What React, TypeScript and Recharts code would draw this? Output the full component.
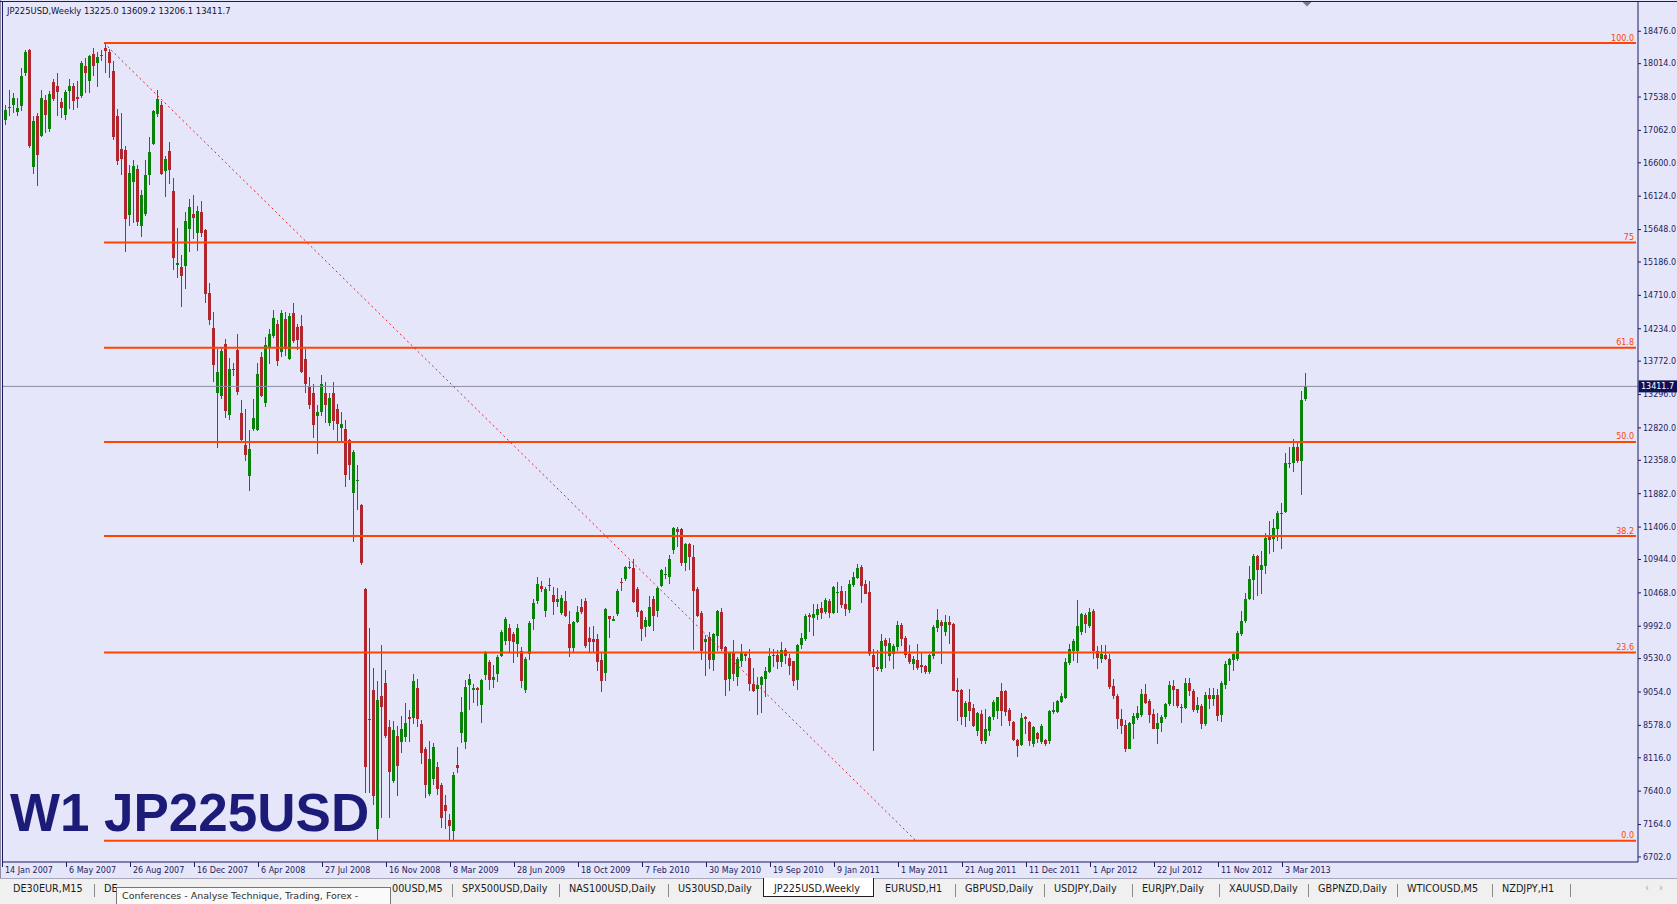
import React from 'react';
import { ComposedChart, Bar, XAxis, YAxis, ReferenceLine } from 'recharts';

// ---------- DATA (weekly OHLC, [open, high, low, close]) ----------
const y2007: number[][] = [
  [17216,17430,17145,17358],[17392,17643,17264,17400],[17430,17596,17311,17525],[17320,17525,17264,17382],[17406,17952,17335,17833],
  [17881,18213,17833,18175],[18204,18223,16812,16836],[16537,17264,16447,17202],[17273,17311,16276,16718],[16988,17634,16969,17525],
  [17491,17572,17026,17278],[17088,17620,17036,17586],[17748,17795,17477,17515],[17691,17881,17264,17605],[17463,17525,17240,17387],
  [17283,17643,17207,17615],[17629,17795,17368,17700],[17691,17738,17358,17477],[17534,17762,17377,17515],[17548,18047,17525,18023],
  [17976,18094,17596,17881],[17772,18142,17596,18118],[18151,18237,17833,17976],[18023,18175,17681,18109],[18118,18204,18047,18142],
  [18237,18308,17881,18189],[18175,18223,17810,18023],[17905,18047,16922,16969],[17273,17368,16575,16632],[16803,17311,16423,16661],
  [16789,16846,15326,15792],[15849,16575,15697,16457],[16323,16637,15744,16551],[16513,16575,15706,15763],[15697,16219,15545,16148],
  [15863,16637,15839,16423],[16423,16969,16281,16755],[16874,17358,16860,17335],[17297,17634,17254,17510],[17430,17477,16433,16447],
  [16490,16703,16115,16661],[16775,16898,16304,16494],[16195,16385,15065,15241],[15146,15673,14961,15174],[15113,15284,14548,14980],
  [15127,15896,14804,15768],[15659,16077,15331,15972],[15863,16138,15516,15811],[15592,15982,15341,15910],[15896,16053,15545,15602],
  [15649,15659,14605,14723],
];
const y2008: number[][] = [
  [14747,14890,14287,14358],[14239,14472,13480,13717],[13323,13949,12540,13617],[13275,13964,13237,13916],[14011,14082,12967,13061],
  [13004,13812,12933,13655],[13665,13750,13560,13646],[13930,14154,13290,13332],[13038,13218,12620,12648],[12573,13085,12349,12430],
  [12136,12786,11922,12525],[12800,13228,12777,12967],[12786,13750,12777,13584],[13836,13902,13256,13275],[13175,14120,13115,14005],
  [13977,14230,13725,14154],[14129,14508,14104,14381],[14306,14356,13700,13775],[13902,14508,13826,14457],[14366,14467,13851,13952],
  [13801,14457,13790,14417],[14457,14598,14028,14053],[14255,14305,13927,14078],[14280,14432,13599,13624],[13801,13952,13321,13447],
  [13397,13548,13094,13144],[13321,13447,12679,12866],[12993,13144,12452,13053],[13043,13573,12993,13447],[13321,13472,12892,13144],
  [12892,13321,12841,13245],[13321,13472,12791,12917],[13094,13154,12629,12881],[12816,13043,12614,12881],[12801,12927,11983,12149],
  [12649,12664,12084,12296],[11892,12498,11200,12472],[12058,12296,11654,12083],[11720,11740,10872,10897],[10528,10543,7614,7983],
  [8670,9973,7614,8650],[9089,9392,7448,7564],[7094,9205,6940,8937],[9003,9720,7261,8841],[9180,9367,8397,8422],
  [8559,8649,7261,7917],[7781,8639,7751,8508],[8432,8574,7564,8003],[8344,8710,8185,8533],[8407,8902,8347,8614],
  [8700,8801,8337,8665],[8685,9316,8599,9205],
];
const y2009: number[][] = [
  [9104,9240,8559,8675],[8599,8649,8033,8180],[8245,8271,7539,7730],[7599,8356,7574,8104],[7816,8321,7730,8266],
  [7983,8054,7589,7675],[7730,7751,7109,7251],[7438,7589,7099,7362],[7236,7311,6943,7150],[7074,7917,6932,7867],
  [8018,8271,7902,7968],[8473,8978,8321,8776],[8336,9230,8246,9119],[9155,9306,8791,9245],[9079,9165,8902,9104],
  [9104,9119,8852,9089],[8862,9245,8614,9230],[9291,9644,9230,9609],[9483,9508,9089,9230],[9230,9432,9104,9265],
  [9316,9584,9195,9558],[9569,9937,9554,9912],[9776,10129,9720,10099],[9973,10023,9609,9786],[9887,9912,9473,9761],
  [9735,10023,9558,9963],[9634,9695,9104,9215],[9077,9560,9040,9520],[9600,10070,9515,10045],[10095,10380,9943,10319],
  [10357,10699,10309,10594],[10570,10642,10475,10523],[10214,10547,10119,10523],[10580,10680,10490,10570],[10437,10547,10152,10342],
  [10342,10537,10262,10380],[10176,10442,10157,10395],[10357,10499,10129,10143],[10024,10214,9549,9682],[9682,10071,9620,10048],
  [10048,10285,10033,10190],[10262,10380,10166,10190],[10357,10395,9682,9715],[9826,9986,9620,9772],[9810,10000,9609,9763],
  [9810,9881,9359,9478],[9511,9606,9050,9207],[9321,10252,9217,10238],[10133,10143,9824,10095],[10071,10143,10062,10095],
  [10166,10523,10143,10499],[10618,10680,10499,10603],
];
const y2010: number[][] = [
  [10665,10855,10642,10841],[10831,10927,10808,10817],[10822,10950,10319,10333],[10523,10547,10119,10190],[10205,10224,9787,9953],
  [9977,10119,9844,10081],[10000,10428,9977,10262],[10380,10428,9929,10133],[10205,10547,10119,10537],[10570,10808,10547,10793],
  [10722,10831,10665,10737],[10689,11012,10594,10950],[11078,11411,11022,11392],[11378,11402,11126,11330],[11378,11392,10855,10889],
  [10889,11174,10774,11164],[11164,11174,10793,10974],[10974,11155,9654,10499],[10523,10547,10129,10143],[10176,10205,9511,9644],
  [9763,9867,9288,9810],[9834,9905,9383,9511],[9511,9891,9359,9881],[9858,10224,9644,10214],[10190,10252,9644,9668],
  [9691,9715,9003,9226],[9240,9620,9074,9606],[9611,9796,9217,9312],[9264,9549,9145,9525],[9502,9739,9407,9630],
  [9597,9606,9502,9573],[9535,9668,9074,9169],[9169,9397,9050,9074],[9098,9273,8732,9155],[9155,9283,8751,9273],
  [9240,9416,8989,9359],[9345,9682,9321,9573],[9582,9668,9407,9563],[9587,9654,9383,9478],[9478,9763,9407,9654],
  [9658,9682,9454,9573],[9540,9600,9300,9420],[9489,9499,9142,9214],[9223,9736,9085,9722],[9722,9902,9665,9831],
  [9807,10163,9783,10140],[10154,10187,9916,10126],[10107,10316,9855,10163],[10154,10316,10078,10235],[10249,10344,10092,10187],
  [10197,10401,10173,10363],[10354,10377,10107,10187],
];
const y2011: number[][] = [
  [10187,10567,10173,10553],[10472,10629,10187,10487],[10496,10567,10258,10292],[10316,10496,10140,10244],[10225,10648,10187,10600],
  [10577,10771,10558,10695],[10686,10885,10672,10828],[10843,10866,10330,10567],[10591,10648,10448,10458],[10482,10638,9570,9593],
  [9579,9665,8216,9413],[9413,9650,9356,9380],[9380,9878,9342,9783],[9793,9831,9394,9712],[9570,9821,9499,9759],
  [9593,9736,9380,9712],[9698,10069,9641,10007],[10007,10045,9712,9807],[9817,9855,9546,9579],[9603,9727,9451,9475],
  [9451,9570,9370,9522],[9508,9745,9366,9394],[9437,9617,9332,9413],[9422,9442,9309,9342],[9342,9603,9309,9579],
  [9570,10007,9522,9983],[9973,10235,9916,10078],[10054,10078,9451,9997],[9916,10154,9855,10054],[10059,10140,9736,10011],
  [10021,10031,9062,9071],[9081,9247,8644,9047],[9081,9095,8582,8701],[8701,8919,8558,8895],[8905,9095,8644,8777],
  [8833,8881,8548,8572],[8501,8762,8430,8748],[8738,8800,8311,8359],[8359,8810,8311,8525],[8501,8715,8430,8701],
  [8701,8938,8653,8914],[8786,8985,8667,8976],[9071,9176,8572,8786],[9071,9081,8715,8772],[8800,8819,8572,8643],
  [8629,8643,8359,8368],[8368,8382,8121,8287],[8297,8748,8287,8682],[8691,8715,8453,8667],[8629,8643,8287,8359],
  [8311,8572,8264,8548],[8463,8477,8321,8382],
];
const y2012: number[][] = [
  [8335,8596,8311,8572],[8368,8382,8287,8311],[8349,8795,8311,8786],[8775,8910,8737,8800],[8771,8941,8752,8927],
  [8913,9046,8894,8998],[8975,9545,8951,9483],[9464,9735,9436,9664],[9640,9815,9497,9782],[9640,10367,9474,9996],
  [9911,10176,9863,10162],[10153,10176,9891,10020],[9996,10257,9972,10200],[10210,10234,9531,9640],[9640,9711,9379,9545],
  [9531,9720,9464,9592],[9578,9720,9512,9531],[9521,9592,9094,9132],[9141,9246,8951,8998],[8998,9022,8524,8666],
  [8666,8818,8452,8571],[8580,8656,8201,8248],[8248,8628,8238,8609],[8595,8751,8390,8713],[8690,8856,8656,8751],
  [8723,9094,8704,9022],[9022,9165,8880,8904],[8927,8951,8619,8723],[8737,8808,8524,8533],[8533,8761,8310,8619],
  [8619,8723,8485,8704],[8704,8904,8666,8880],[8880,9212,8856,9150],[9141,9226,8856,9084],[9094,9103,8832,8856],
  [8847,8880,8619,8832],[8832,9260,8818,9188],[9179,9260,8998,9070],[9070,9094,8770,8799],[8799,8989,8761,8865],
  [8856,8880,8524,8595],[8595,9056,8571,9008],[9008,9118,8808,8960],[8960,9118,8856,9008],[9008,9094,8642,8713],
  [8723,9212,8628,9188],[9150,9497,9094,9450],[9436,9545,9212,9521],[9507,9616,9355,9592],[9521,9924,9497,9891],
  [9877,10210,9853,10067],[10067,10471,10044,10386],[10386,10851,10367,10661],
];
const y2013: number[][] = [
  [10651,11017,10367,10994],[10994,11003,10424,10794],[10794,11065,10447,10861],[10851,11326,10732,11255],[11269,11492,11017,11222],
  [11231,11516,11051,11397],[11374,11635,11207,11601],[11587,11754,11089,11611],[11621,12457,11601,12324],[12324,12552,12252,12300],
  [12314,12666,12191,12552],[12552,12618,12324,12347],[12347,13345,11858,13217],[13225.0,13609.2,13206.1,13411.7],
];

const dateLabels = [
  '14 Jan 2007','6 May 2007','26 Aug 2007','16 Dec 2007','6 Apr 2008','27 Jul 2008','16 Nov 2008',
  '8 Mar 2009','28 Jun 2009','18 Oct 2009','7 Feb 2010','30 May 2010','19 Sep 2010','9 Jan 2011',
  '1 May 2011','21 Aug 2011','11 Dec 2011','1 Apr 2012','22 Jul 2012','11 Nov 2012','3 Mar 2013',
];
const dateLabelStep = 16; // weeks between time-scale labels
const emptySlotsRight = 83; // chart shift (empty weeks to the right of the last bar)

const priceTicks = [6702,7164,7640,8116,8578,9054,9530,9992,10468,10944,11406,11882,12358,12820,13296,13772,14234,14710,15186,15648,16124,16600,17062,17538,18014,18476];

const fibLevels = [0, 23.6, 38.2, 50.0, 61.8, 75, 100.0];
const fibLabels = ['0.0', '23.6', '38.2', '50.0', '61.8', '75', '100.0'];
const fibHigh = 18308;
const fibLow = 6932;
const fibHighBar = 25;
const fibLowBar = 228;

const lastPrice = 13411.7;
const headerText = 'JP225USD,Weekly  13225.0 13609.2 13206.1 13411.7';
const timeframeText = 'W1';
const symbolText = 'JP225USD';
const tooltipText = 'Conferences - Analyse Technique, Trading, Forex -';

// tab captions as visible (two tabs are partly covered by the tooltip)
const tabNames = ['DE30EUR,M15','DE','00USD,M5','SPX500USD,Daily','NAS100USD,Daily','US30USD,Daily','JP225USD,Weekly','EURUSD,H1','GBPUSD,Daily','USDJPY,Daily','EURJPY,Daily','XAUUSD,Daily','GBPNZD,Daily','WTICOUSD,M5','NZDJPY,H1'];
const activeTab = 6;

// ---------- LAYOUT / STYLE ----------
const W = 1677;
const H = 904;
const BG = '#E6E6FA';
const NAVY = '#1B1B5E';
const BULL = '#0A820A';
const BEAR = '#B0262E';
const FIB = '#FF4500';
const FONT = 'DejaVu Sans';
const tabTextX = [13, 104, 392, 462, 569, 678, 774, 885, 965, 1054, 1142, 1229, 1318, 1407, 1502];
const tabSepX = [94, null, 452, 559, 668, null, null, 955, 1044, 1132, 1219, 1308, 1397, 1492, 1570];

const candles = [...y2007, ...y2008, ...y2009, ...y2010, ...y2011, ...y2012, ...y2013];
const totalSlots = candles.length + emptySlotsRight;
const lastSlot = totalSlots - 1;
const dateTickBars = dateLabels.map((_, k) => k * dateLabelStep);

const chartData = Array.from({ length: totalSlots }, (_, i) => {
  const c = candles[i];
  if (!c) return { i, range: null, o: null, h: null, l: null, c: null };
  return { i, range: [c[2], c[1]], o: c[0], h: c[1], l: c[2], c: c[3] };
});

const Candle = (props: any) => {
  const { x, y, width, height, payload } = props;
  if (!payload || payload.o == null) return null;
  const { o, h, l, c } = payload;
  const top = Math.min(y, y + height);
  const hgt = Math.abs(height);
  const span = h - l;
  const py = (p: number) => (span > 0 ? top + ((h - p) / span) * hgt : top);
  const cx = Math.round(x + width / 2);
  const color = c >= o ? BULL : BEAR;
  const bt = py(Math.max(o, c));
  const bb = py(Math.min(o, c));
  return (
    <g shapeRendering="crispEdges">
      <rect x={cx} y={top} width={1} height={Math.max(hgt, 1)} fill={color} />
      <rect x={cx - 1} y={bt} width={3} height={Math.max(bb - bt, 1)} fill={color} />
    </g>
  );
};

const DateTick = (props: any) => {
  const { x, y, payload } = props;
  const k = Math.round(payload.value / dateLabelStep);
  return (
    <g>
      <line x1={x - 1.5} x2={x - 1.5} y1={y} y2={y + 5} stroke={NAVY} strokeWidth={1} />
      <text x={x + 1} y={y + 10.5} fontSize={8} fontFamily={FONT} fill={NAVY}>
        {dateLabels[k]}
      </text>
    </g>
  );
};

const fibLabel = (text: string) => (p: any) => {
  const vb = p.viewBox || {};
  return (
    <text x={vb.x + vb.width - 2} y={vb.y - 2.5} textAnchor="end" fontSize={8} fontFamily={FONT} fill={FIB}>
      {text}
    </text>
  );
};

const priceBox = (p: any) => {
  const vb = p.viewBox || {};
  const x0 = vb.x + vb.width;
  return (
    <g>
      <rect x={x0 + 0.5} y={vb.y - 6} width={39} height={12} fill="#0F0F55" />
      <text x={x0 + 3} y={vb.y + 3} fontSize={8} fontFamily={FONT} fill="#FFFFFF">
        {lastPrice.toFixed(1)}
      </text>
    </g>
  );
};

export default function App() {
  return (
    <div style={{ position: 'relative', width: W, height: H, background: BG, overflow: 'hidden' }}>
      <style>{'body{margin:0;}'}</style>
      <ComposedChart width={W} height={H} data={chartData} margin={{ top: 2, right: 0, bottom: 0, left: 2 }}>
        <XAxis
          dataKey="i"
          type="category"
          ticks={dateTickBars}
          interval={0}
          height={42}
          tickSize={0}
          tickMargin={0}
          axisLine={{ stroke: NAVY }}
          tickLine={false}
          tick={<DateTick />}
        />
        <YAxis
          orientation="right"
          type="number"
          domain={[6630, 18893]}
          allowDataOverflow
          ticks={priceTicks}
          interval={0}
          width={39}
          tickSize={3}
          tickMargin={2}
          axisLine={{ stroke: NAVY }}
          tickLine={{ stroke: NAVY }}
          tick={{ fill: NAVY, fontSize: 8, fontFamily: FONT }}
          tickFormatter={(v: number) => v.toFixed(1)}
        />
        <ReferenceLine y={lastPrice} stroke="#8A8AA0" strokeWidth={1} ifOverflow="visible" label={priceBox} />
        <Bar dataKey="range" barSize={3} isAnimationActive={false} shape={(p: any) => <Candle {...p} />} />
        {fibLevels.map((lv, k) => {
          const price = fibLow + (lv / 100) * (fibHigh - fibLow);
          return (
            <ReferenceLine
              key={'fib' + k}
              segment={[{ x: fibHighBar, y: price }, { x: lastSlot, y: price }]}
              stroke={FIB}
              strokeWidth={2}
              ifOverflow="visible"
              label={fibLabel(fibLabels[k])}
            />
          );
        })}
        <ReferenceLine
          segment={[{ x: fibHighBar, y: fibHigh }, { x: fibLowBar, y: fibLow }]}
          stroke="#E4202A"
          strokeWidth={1}
          strokeDasharray="2 3"
          ifOverflow="visible"
        />
      </ComposedChart>

      <svg width={W} height={H} style={{ position: 'absolute', left: 0, top: 0, pointerEvents: 'none' }}>
        <line x1={0.5} y1={0} x2={0.5} y2={878} stroke="#8C8CA8" />
        <line x1={2.5} y1={1.5} x2={2.5} y2={862} stroke={NAVY} />
        <line x1={0} y1={1.5} x2={W} y2={1.5} stroke={NAVY} />
        <text x={7} y={14} fontSize={8.4} fontFamily={FONT} fill="#101030">{headerText}</text>
        <text x={10} y={831} fontSize={53} fontWeight="bold" fontFamily="Liberation Sans" fill="#1C1C78">{timeframeText}</text>
        <text x={104} y={831} fontSize={53} fontWeight="bold" fontFamily="Liberation Sans" fill="#1C1C78">{symbolText}</text>
        <polygon points="1302.5,2 1311.5,2 1307,6.5" fill="#7A7A98" />
      </svg>

      <div style={{ position: 'absolute', left: 0, top: 878, width: W, height: 26, background: '#F0F0F0', borderTop: '1px solid #A8A8B8', boxSizing: 'border-box' }}>
        {tabNames.map((name, k) => {
          const left = tabTextX[k];
          const sep = tabSepX[k];
          const active = k === activeTab;
          return (
            <React.Fragment key={name}>
              {active && (
                <div style={{ position: 'absolute', left: left - 11, top: -1, width: tabTextX[k + 1] - left, height: 19, background: '#FFFFFF', border: '1px solid #202020', borderTop: 'none', boxSizing: 'border-box' }} />
              )}
              <div style={{ position: 'absolute', left, top: 4, fontFamily: FONT, fontSize: 9.7, color: '#1A1A1A', whiteSpace: 'nowrap' }}>{name}</div>
              {sep != null && (
                <div style={{ position: 'absolute', left: sep, top: 5, width: 1, height: 13, background: '#8A8A8A' }} />
              )}
            </React.Fragment>
          );
        })}
        <div style={{ position: 'absolute', left: 1645, top: 3, fontFamily: FONT, fontSize: 10, color: '#A0A0A0' }}>‹</div>
        <div style={{ position: 'absolute', left: 1659, top: 3, fontFamily: FONT, fontSize: 10, color: '#A0A0A0' }}>›</div>
        <div style={{ position: 'absolute', left: 116, top: 8, width: 275, height: 22, background: '#FAFAFA', border: '1px solid #767676', boxSizing: 'border-box', fontFamily: FONT, fontSize: 9.5, color: '#303030', paddingLeft: 5, paddingTop: 2, whiteSpace: 'nowrap' }}>{tooltipText}</div>
      </div>
    </div>
  );
}
